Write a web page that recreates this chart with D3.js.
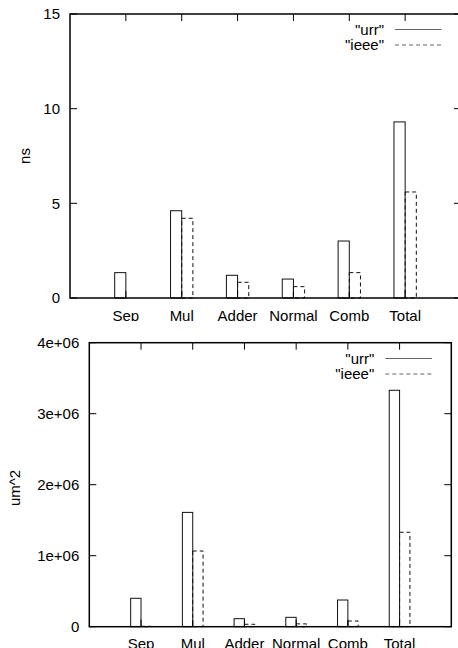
<!DOCTYPE html>
<html>
<head>
<meta charset="utf-8">
<script src="https://cdn.jsdelivr.net/npm/d3@7"></script>
<style>
  html, body { margin: 0; padding: 0; background: #fff; }
  svg { display: block; }
  text { font-family: "Liberation Sans", Arial, sans-serif; fill: #000; }
</style>
</head>
<body>
<svg id="chart" width="458" height="648"></svg>
<script>
// data
const categories = ["Sep", "Mul", "Adder", "Normal", "Comb", "Total"];
const seriesNames = ['"urr"', '"ieee"'];

// delay, ns
const delayUrr  = [1.34, 4.61, 1.2, 1.0, 3.01, 9.3];
const delayIeee = [0, 4.21, 0.83, 0.6, 1.34, 5.6];
const delayTicks = [0, 5, 10, 15];
const delayTickLabels = ["0", "5", "10", "15"];

// area, um^2
const areaUrr  = [400000, 1610000, 113000, 132000, 376000, 3330000];
const areaIeee = [5000, 1066000, 34000, 40000, 80000, 1330000];
const areaTicks = [0, 1e6, 2e6, 3e6, 4e6];
const areaTickLabels = ["0", "1e+06", "2e+06", "3e+06", "4e+06"];

const boxWidth = 0.2;   // gnuplot boxwidth in x units
const fontSize = 15;
const tickLen = 7;

const svg = d3.select("#chart");

function drawPanel(cfg) {
  const clipId = "clip-" + cfg.id;
  svg.append("clipPath").attr("id", clipId)
    .append("rect").attr("x", 0).attr("y", cfg.clipTop).attr("width", 458).attr("height", cfg.clipHeight);

  const g = svg.append("g").attr("clip-path", `url(#${clipId})`);

  const x = d3.scaleLinear().domain([-1, 6]).range([cfg.left, cfg.right]);
  const y = d3.scaleLinear().domain([0, cfg.yMax]).range([cfg.bottom, cfg.top]);

  // bars, urr to the left of the tick, ieee to the right
  const series = [
    { values: cfg.urr, offset: -boxWidth, dash: null },
    { values: cfg.ieee, offset: 0, dash: "4,3" }
  ];
  series.forEach(s => {
    g.append("g").selectAll("rect")
      .data(s.values)
      .join("rect")
      .attr("x", (d, i) => x(i + s.offset))
      .attr("y", d => y(d))
      .attr("width", x(boxWidth) - x(0))
      .attr("height", d => y(0) - y(d))
      .attr("fill", "none")
      .attr("stroke", "#111")
      .attr("stroke-width", 1)
      .attr("stroke-dasharray", s.dash);
  });

  // y ticks, left and mirrored right
  const ticksG = g.append("g").attr("stroke", "#000").attr("stroke-width", 1);
  cfg.ticks.forEach(t => {
    ticksG.append("line").attr("x1", cfg.left).attr("x2", cfg.left + tickLen).attr("y1", y(t)).attr("y2", y(t));
    ticksG.append("line").attr("x1", cfg.right).attr("x2", cfg.right - tickLen).attr("y1", y(t)).attr("y2", y(t));
  });
  // x ticks, bottom and mirrored top
  categories.forEach((c, i) => {
    ticksG.append("line").attr("x1", x(i)).attr("x2", x(i)).attr("y1", cfg.top).attr("y2", cfg.top + tickLen);
    ticksG.append("line").attr("x1", x(i)).attr("x2", x(i)).attr("y1", cfg.bottom).attr("y2", cfg.bottom - tickLen);
  });

  // frame
  g.append("rect")
    .attr("x", cfg.left).attr("y", cfg.top)
    .attr("width", cfg.right - cfg.left).attr("height", cfg.bottom - cfg.top)
    .attr("fill", "none").attr("stroke", "#000").attr("stroke-width", 1.5);

  // y tick labels
  g.append("g").selectAll("text")
    .data(cfg.ticks)
    .join("text")
    .attr("x", cfg.left - 10)
    .attr("y", d => y(d))
    .attr("dy", "0.36em")
    .attr("text-anchor", "end")
    .style("font-size", fontSize + "px")
    .text((d, i) => cfg.tickLabels[i]);

  // x tick labels
  g.append("g").selectAll("text")
    .data(categories)
    .join("text")
    .attr("x", (d, i) => x(i))
    .attr("y", cfg.bottom + cfg.xLabelOffset)
    .attr("text-anchor", "middle")
    .style("font-size", fontSize + "px")
    .text(d => d);

  // y axis title
  g.append("text")
    .attr("transform", `translate(${cfg.yTitleX},${cfg.yTitleY}) rotate(-90)`)
    .attr("text-anchor", "middle")
    .attr("dy", "0.36em")
    .style("font-size", fontSize + "px")
    .text(cfg.yTitle);

  // legend
  const lineEnd = x(6) - 19.5;
  const lineStart = lineEnd - 46.5;
  seriesNames.forEach((name, i) => {
    const ly = cfg.legendY + i * 15.5;
    g.append("text")
      .attr("x", lineStart - 11)
      .attr("y", ly)
      .attr("dy", "0.36em")
      .attr("text-anchor", "end")
      .style("font-size", fontSize + "px")
      .text(name);
    g.append("line")
      .attr("x1", lineStart).attr("x2", lineEnd)
      .attr("y1", ly).attr("y2", ly)
      .attr("stroke", "#666")
      .attr("stroke-width", 1.2)
      .attr("stroke-dasharray", i === 1 ? "4,3" : null);
  });
}

drawPanel({
  id: "delay",
  clipTop: 0, clipHeight: 321,
  left: 70, right: 461, top: 14, bottom: 298,
  yMax: 15, ticks: delayTicks, tickLabels: delayTickLabels,
  urr: delayUrr, ieee: delayIeee,
  yTitle: "ns", yTitleX: 25, yTitleY: 156,
  xLabelOffset: 23,
  legendY: 29.5
});

drawPanel({
  id: "area",
  clipTop: 321, clipHeight: 327,
  left: 89.3, right: 451.3, top: 342.7, bottom: 626.7,
  yMax: 4e6, ticks: areaTicks, tickLabels: areaTickLabels,
  urr: areaUrr, ieee: areaIeee,
  yTitle: "um^2", yTitleX: 15, yTitleY: 488,
  xLabelOffset: 22.5,
  legendY: 358.5
});
</script>
</body>
</html>
